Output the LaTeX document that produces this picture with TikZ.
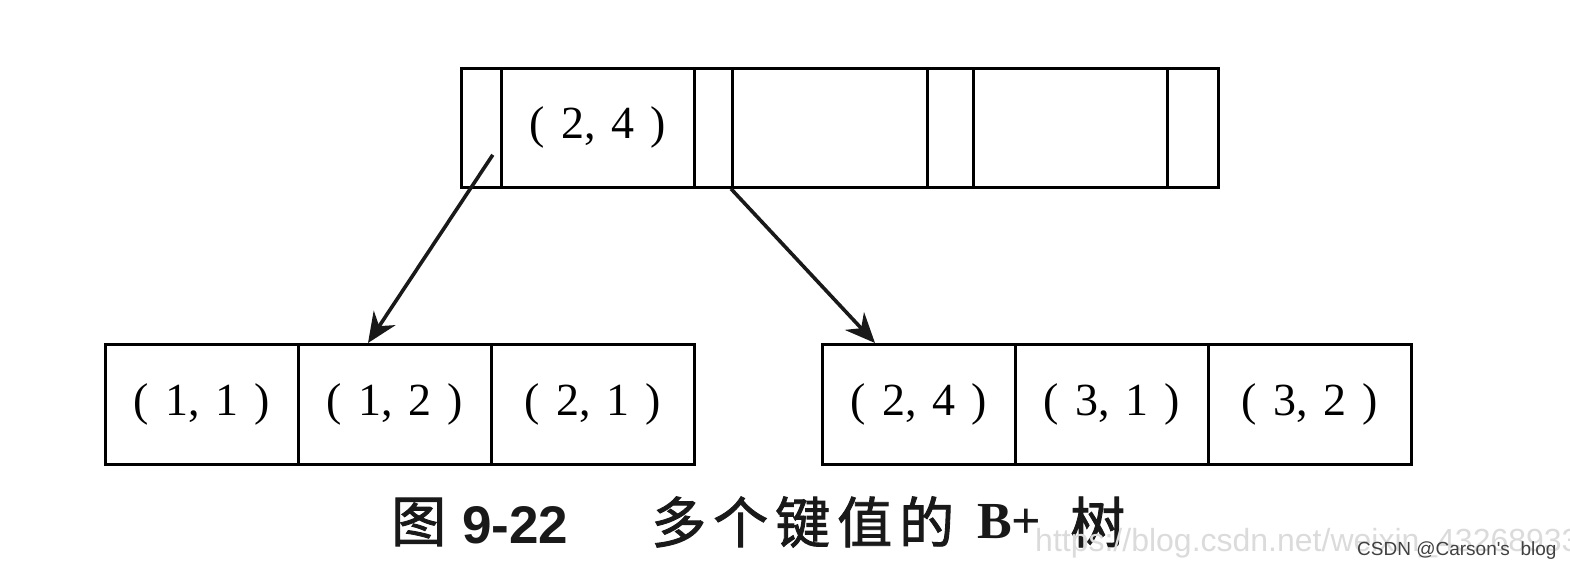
\documentclass[tikz,border=0pt]{standalone}
\usepackage{fontspec}
\setmainfont{Liberation Serif}
\newfontfamily\cjk[FakeBold=1.6]{Noto Sans CJK SC}
\newfontfamily\wmfont{Liberation Sans}
\usetikzlibrary{arrows.meta,calc}
\newcommand{\kp}[2]{(\hspace{16pt}#1,\hspace{16pt}#2\hspace{16pt})}
\newcommand{\cjkgap}{\hspace{7pt}}
\begin{document}
\begin{tikzpicture}[x=1pt,y=-1pt,
  cell/.style={draw=black, line width=2.8pt, inner sep=0pt, anchor=north west,
    font=\fontsize{46}{46}\selectfont, text=black},
  capt/.style={inner sep=0pt, text=black!90},
  link/.style={draw=black!90, line width=3.6pt, -{Stealth[length=30pt,width=26pt]}}]
\useasboundingbox (0,0) rectangle (1570,573);
% top node
\node[cell, minimum width=40pt,  minimum height=119pt] (p0) at (460,67) {};
\node[cell, minimum width=193pt, minimum height=119pt] (k1) at (500,67) {\kp{2}{4}};
\node[cell, minimum width=38pt,  minimum height=119pt] (p1) at (693,67) {};
\node[cell, minimum width=195pt, minimum height=119pt] (k2) at (731,67) {};
\node[cell, minimum width=46pt,  minimum height=119pt] (p2) at (926,67) {};
\node[cell, minimum width=194pt, minimum height=119pt] (k3) at (972,67) {};
\node[cell, minimum width=51pt,  minimum height=119pt] (p3) at (1166,67) {};
% bottom left leaf
\node[cell, minimum width=193pt, minimum height=120pt] (l1) at (104,343) {\kp{1}{1}};
\node[cell, minimum width=193pt, minimum height=120pt] (l2) at (297,343) {\kp{1}{2}};
\node[cell, minimum width=203pt, minimum height=120pt] (l3) at (490,343) {\kp{2}{1}};
% bottom right leaf
\node[cell, minimum width=193pt, minimum height=120pt] (r1) at (821,343) {\kp{2}{4}};
\node[cell, minimum width=193pt, minimum height=120pt] (r2) at (1014,343) {\kp{3}{1}};
\node[cell, minimum width=203pt, minimum height=120pt] (r3) at (1207,343) {\kp{3}{2}};
% arrows
\coordinate (s1) at ($(p0.south east)+(-10,-34)$);
\coordinate (e1) at ($(l2.north west)+(71,0)$);
\coordinate (e2) at ($(r1.north west)+(54,0)$);
\draw[link] (s1) -- (e1);
\draw[link] (k2.south west) -- (e2);
% caption
\node[capt, anchor=west, font=\cjk\fontsize{55}{55}\selectfont] (cap1) at (391,522) {图};
\node[capt, anchor=base west, font=\wmfont\bfseries\fontsize{53}{53}\selectfont] (cap2) at (462,543) {9-22};
\node[capt, anchor=west, font=\cjk\fontsize{55}{55}\selectfont] (cap3) at (651,522) {多\cjkgap 个\cjkgap 键\cjkgap 值\cjkgap 的};
\node[capt, anchor=base west, font=\bfseries\fontsize{52}{52}\selectfont] (cap4) at (977,538) {B+};
\node[capt, anchor=west, font=\cjk\fontsize{55}{55}\selectfont] (cap5) at (1070,522) {树};
% watermark
\node[anchor=west, inner sep=0pt, font=\wmfont\fontsize{32}{32}\selectfont, text=black!14] (wm) at (1035,543) {https://blog.csdn.net/weixin\_43268933};
\node[anchor=west, inner sep=0pt, font=\wmfont\fontsize{19}{19}\selectfont, text=black!75] (wm2) at (1357,551) {CSDN @Carson's\ \ blog};
\end{tikzpicture}
\end{document}
